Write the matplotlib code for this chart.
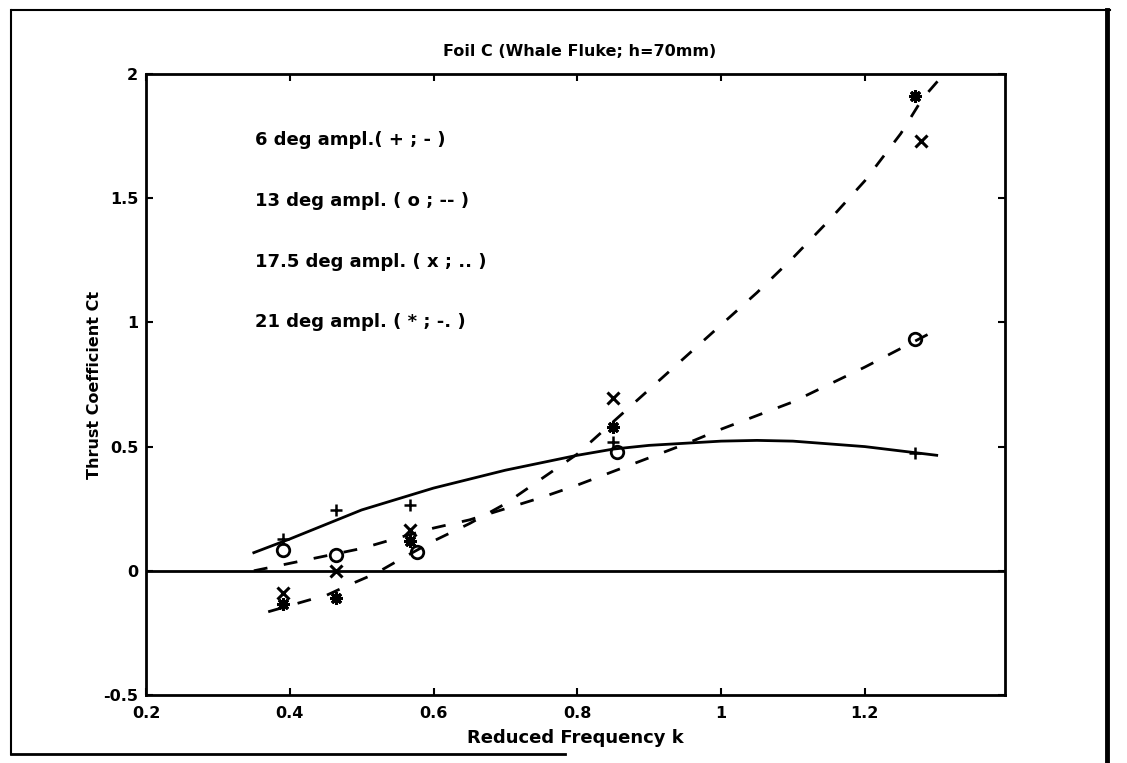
import matplotlib
matplotlib.use("Agg")
import matplotlib.pyplot as plt
from matplotlib.lines import Line2D

plt.rcParams['font.family'] = ['DejaVu Sans']
plt.rcParams['font.weight'] = 'bold'

# ---- data ----
k_plus = [0.39, 0.465, 0.567, 0.85, 1.27]
ct_plus = [0.13, 0.245, 0.265, 0.52, 0.473]

k_circ = [0.39, 0.465, 0.577, 0.855, 1.27]
ct_circ = [0.085, 0.065, 0.075, 0.478, 0.935]

k_x = [0.39, 0.465, 0.567, 0.85, 1.278]
ct_x = [-0.09, 0.0, 0.165, 0.695, 1.73]

k_star = [0.39, 0.465, 0.567, 0.85, 1.27]
ct_star = [-0.135, -0.11, 0.12, 0.58, 1.91]

# fitted curves
k_fit6 = [0.35, 0.40, 0.50, 0.60, 0.70, 0.80, 0.85, 0.90, 1.00, 1.05, 1.10, 1.20, 1.30]
ct_fit6 = [0.073, 0.128, 0.245, 0.333, 0.405, 0.465, 0.49, 0.505, 0.522, 0.525, 0.522, 0.50, 0.465]

k_fit13 = [0.35, 0.40, 0.45, 0.50, 0.55, 0.60, 0.65, 0.70, 0.75, 0.80, 0.85, 0.90, 0.95, 1.00, 1.10, 1.20, 1.30]
ct_fit13 = [0.0, 0.03, 0.06, 0.09, 0.132, 0.172, 0.205, 0.25, 0.295, 0.345, 0.40, 0.455, 0.51, 0.57, 0.68, 0.82, 0.97]

k_fit21 = [0.37, 0.40, 0.43, 0.45, 0.48, 0.52, 0.55, 0.60, 0.65, 0.70, 0.75, 0.80, 0.85, 0.90, 0.95, 1.00, 1.05, 1.10, 1.15, 1.20, 1.25, 1.28, 1.31]
ct_fit21 = [-0.165, -0.14, -0.115, -0.10, -0.06, -0.01, 0.04, 0.12, 0.19, 0.27, 0.37, 0.47, 0.60, 0.73, 0.86, 0.99, 1.12, 1.26, 1.41, 1.57, 1.76, 1.90, 2.0]

xticks = [0.2, 0.4, 0.6, 0.8, 1.0, 1.2]
xtick_labels = ['0.2', '0.4', '0.6', '0.8', '1', '1.2']
yticks = [-0.5, 0, 0.5, 1, 1.5, 2]
ytick_labels = ['-0.5', '0', '0.5', '1', '1.5', '2']

legend_texts = ['6 deg ampl.( + ; - )', '13 deg ampl. ( o ; -- )',
                '17.5 deg ampl. ( x ; .. )', '21 deg ampl. ( * ; -. )']
legend_y = [1.735, 1.49, 1.245, 1.0]

W, H = 1127, 763
fig = plt.figure(figsize=(W / 100, H / 100), dpi=100)
ax = fig.add_axes([146 / W, 1 - 695 / H, (1005 - 146) / W, (695 - 74) / H])

dash = (0, (5, 6))
ax.plot(k_fit6, ct_fit6, color='black', lw=2.0, ls='-')
ax.plot(k_fit13, ct_fit13, color='black', lw=2.0, ls=dash)
ax.plot(k_fit21, ct_fit21, color='black', lw=2.0, ls=dash)
ax.axhline(0, color='black', lw=2.0)

ax.plot(k_plus, ct_plus, ls='none', marker='+', ms=8, mew=1.8, color='black')
ax.plot(k_circ, ct_circ, ls='none', marker='o', ms=9, mew=2.0, mfc='none', mec='black')
ax.plot(k_x, ct_x, ls='none', marker='x', ms=8, mew=2.2, color='black')
ax.plot(k_star, ct_star, ls='none', marker=(8, 2, 0), ms=9, mew=2.2, color='black')

for t, y in zip(legend_texts, legend_y):
    ax.text(0.352, y, t, fontsize=13, fontweight='bold', va='center', ha='left')

ax.set_xlim(0.2, 1.395)
ax.set_ylim(-0.5, 2.0)
ax.set_xticks(xticks)
ax.set_xticklabels(xtick_labels)
ax.set_yticks(yticks)
ax.set_yticklabels(ytick_labels)
ax.tick_params(direction='in', length=5, width=1.5, top=True, right=True,
               labelsize=11.5)
ax.tick_params(axis='x', pad=8)
ax.tick_params(axis='y', pad=5.5)
for lab in ax.get_xticklabels() + ax.get_yticklabels():
    lab.set_fontweight('bold')
for s in ax.spines.values():
    s.set_linewidth(2.0)

t = ax.set_title('Foil C (Whale Fluke; h=70mm)', fontsize=11.5, fontweight='bold', pad=13)
t.set_x((580 - 146) / (1005 - 146))
ax.set_xlabel('Reduced Frequency k', fontsize=13, fontweight='bold')
ax.set_ylabel('Thrust Coefficient Ct', fontsize=11.5, fontweight='bold')
ax.xaxis.set_label_coords(0.5, -0.055)
ax.yaxis.set_label_coords(-0.051, 0.5)

# outer frame of the scanned page
fig.add_artist(Line2D([12 / W, 1110 / W], [1 - 10 / H, 1 - 10 / H], color='black', lw=1.5, transform=fig.transFigure))
fig.add_artist(Line2D([11 / W, 11 / W], [1 - 10 / H, 1 - 754 / H], color='black', lw=1.5, transform=fig.transFigure))
fig.add_artist(Line2D([1107 / W, 1107 / W], [1 - 10 / H, 1 - 763 / H], color='black', lw=3.5, transform=fig.transFigure))
fig.add_artist(Line2D([11 / W, 565 / W], [1 - 754 / H, 1 - 754 / H], color='black', lw=2.0, transform=fig.transFigure))

fig.savefig('out.png', dpi=100)
